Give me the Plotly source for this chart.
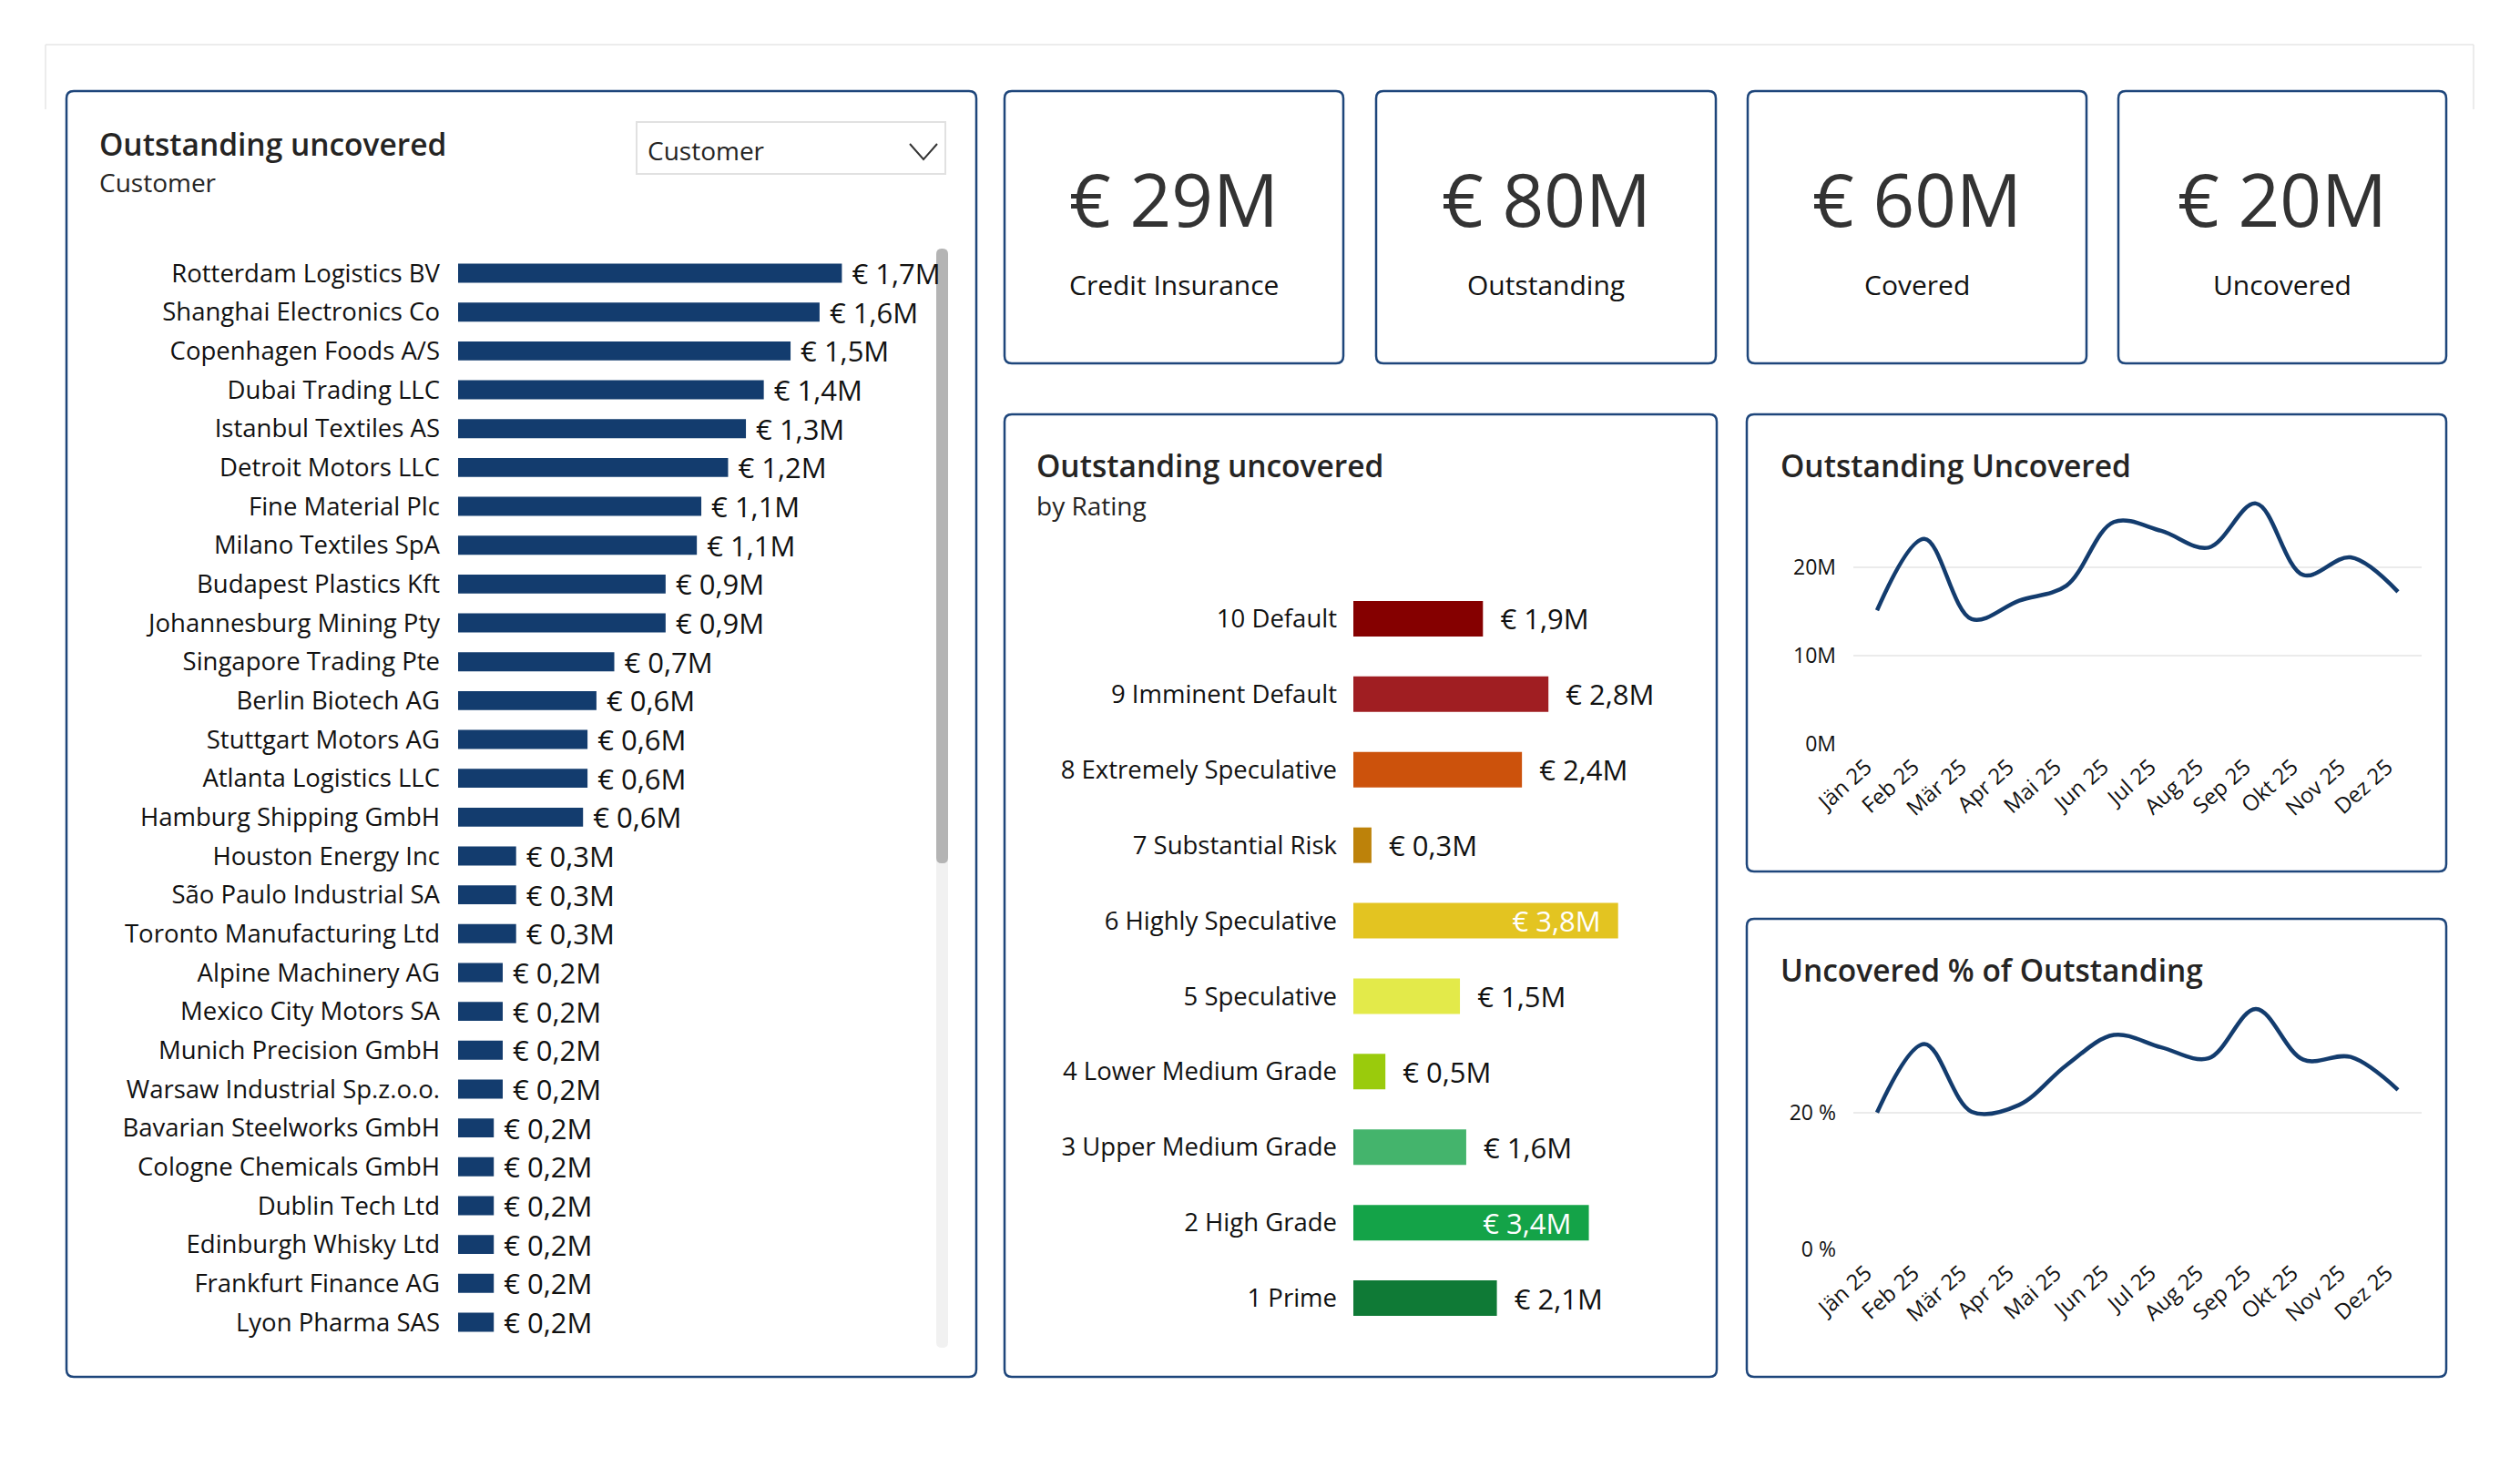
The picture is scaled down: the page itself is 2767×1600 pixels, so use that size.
import plotly.graph_objects as go

W, H = 2767, 1600
FONT = "Segoe UI, Open Sans, sans-serif"
NAVY = "#133C6E"
BORDER = "#1E467B"
TXT = "#252423"

# ---------------- data ----------------
customers = [
    "Rotterdam Logistics BV", "Shanghai Electronics Co", "Copenhagen Foods A/S",
    "Dubai Trading LLC", "Istanbul Textiles AS", "Detroit Motors LLC",
    "Fine Material Plc", "Milano Textiles SpA", "Budapest Plastics Kft",
    "Johannesburg Mining Pty", "Singapore Trading Pte", "Berlin Biotech AG",
    "Stuttgart Motors AG", "Atlanta Logistics LLC", "Hamburg Shipping GmbH",
    "Houston Energy Inc", "São Paulo Industrial SA", "Toronto Manufacturing Ltd",
    "Alpine Machinery AG", "Mexico City Motors SA", "Munich Precision GmbH",
    "Warsaw Industrial Sp.z.o.o.", "Bavarian Steelworks GmbH", "Cologne Chemicals GmbH",
    "Dublin Tech Ltd", "Edinburgh Whisky Ltd", "Frankfurt Finance AG", "Lyon Pharma SAS",
]
customer_uncovered_m = [
    1.72, 1.62, 1.49, 1.37, 1.29, 1.21, 1.09, 1.07, 0.93, 0.93,
    0.70, 0.62, 0.58, 0.58, 0.56, 0.26, 0.26, 0.26, 0.20, 0.20,
    0.20, 0.20, 0.16, 0.16, 0.16, 0.16, 0.16, 0.16,
]

ratings = [
    "10 Default", "9 Imminent Default", "8 Extremely Speculative", "7 Substantial Risk",
    "6 Highly Speculative", "5 Speculative", "4 Lower Medium Grade",
    "3 Upper Medium Grade", "2 High Grade", "1 Prime",
]
rating_uncovered_m = [1.86, 2.80, 2.42, 0.26, 3.80, 1.53, 0.46, 1.62, 3.38, 2.06]
rating_colors = ["#850000", "#A01E22", "#CC520C", "#BD820A", "#E3C421",
                 "#E3EA4A", "#9ACB0C", "#44B46C", "#14A348", "#0F7A36"]
rating_label_inside = [False, False, False, False, True, False, False, False, True, False]

months = ["Jän 25", "Feb 25", "Mär 25", "Apr 25", "Mai 25", "Jun 25",
          "Jul 25", "Aug 25", "Sep 25", "Okt 25", "Nov 25", "Dez 25"]
outstanding_uncovered_m = [15.1, 23.2, 14.1, 16.2, 17.9, 25.1, 24.1, 22.2, 27.2, 19.1, 21.1, 17.2]
uncovered_pct = [20.0, 30.0, 20.1, 21.1, 26.9, 31.3, 29.5, 27.9, 35.1, 27.7, 28.1, 23.3]

kpi_values = ["€ 29M", "€ 80M", "€ 60M", "€ 20M"]
kpi_labels = ["Credit Insurance", "Outstanding", "Covered", "Uncovered"]


# ---------------- helpers ----------------
def px(x):
    return x / W


def py(y):
    return 1 - y / H


def eur(v):
    return "€ " + f"{v:.1f}".replace(".", ",") + "M"


def rr_path(x0, y0, x1, y1, r=8):
    pts = [
        ("M", (x0 + r, y0)), ("L", (x1 - r, y0)), ("Q", (x1, y0), (x1, y0 + r)),
        ("L", (x1, y1 - r)), ("Q", (x1, y1), (x1 - r, y1)),
        ("L", (x0 + r, y1)), ("Q", (x0, y1), (x0, y1 - r)),
        ("L", (x0, y0 + r)), ("Q", (x0, y0), (x0 + r, y0)),
    ]
    out = []
    for p in pts:
        cmd = p[0]
        coords = " ".join(f"{px(a):.6f},{py(b):.6f}" for a, b in p[1:])
        out.append(f"{cmd} {coords}")
    return " ".join(out) + " Z"


fig = go.Figure()

VAL_SIZE = 31

# ---------------- customer bar chart ----------------
cust_scale = 245.0  # px per M (used only to set a pixel-consistent range)
fig.add_trace(go.Bar(
    x=customer_uncovered_m, y=customers, orientation="h",
    marker=dict(color=NAVY, line=dict(width=0)),
    width=0.49,
    text=["\u00a0" + eur(v) for v in customer_uncovered_m],
    textposition="outside", textangle=0, constraintext="none", cliponaxis=False,
    textfont=dict(family=FONT, size=VAL_SIZE, color="#111111"),
    hoverinfo="skip", xaxis="x", yaxis="y", showlegend=False,
))

# ---------------- rating bar chart ----------------
rating_text = [(eur(v) + "\u00a0\u00a0") if ins else ("\u00a0\u00a0" + eur(v))
               for v, ins in zip(rating_uncovered_m, rating_label_inside)]
fig.add_trace(go.Bar(
    x=rating_uncovered_m, y=ratings, orientation="h",
    marker=dict(color=rating_colors, line=dict(width=0)),
    width=0.47,
    text=rating_text,
    textposition=["inside" if ins else "outside" for ins in rating_label_inside],
    insidetextanchor="end", textangle=0, constraintext="none", cliponaxis=False,
    textfont=dict(family=FONT, size=VAL_SIZE,
                  color=["#FFFFFF" if ins else "#111111" for ins in rating_label_inside]),
    hoverinfo="skip", xaxis="x2", yaxis="y2", showlegend=False,
))

# ---------------- line charts ----------------
fig.add_trace(go.Scatter(
    x=months, y=outstanding_uncovered_m, mode="lines",
    line=dict(color=NAVY, width=4.5, shape="spline", smoothing=1.0),
    hoverinfo="skip", xaxis="x3", yaxis="y3", showlegend=False,
))
fig.add_trace(go.Scatter(
    x=months, y=uncovered_pct, mode="lines",
    line=dict(color=NAVY, width=4.5, shape="spline", smoothing=1.0),
    hoverinfo="skip", xaxis="x4", yaxis="y4", showlegend=False,
))

tickfont_bar = dict(family=FONT, size=27.5, color="#111111")
tickfont_line = dict(family=FONT, size=23, color="#111111")
tickfont_month = dict(family=FONT, size=24, color="#111111")

xline = dict(type="category", range=[-0.5, 11.5], tickangle=-42, tickfont=tickfont_month,
             showgrid=False, showline=False, zeroline=False, ticks="", fixedrange=True,
             automargin=False, ticklabelstandoff=6, ticklabelshift=-12)

fig.update_layout(
    width=W, height=H, margin=dict(l=0, r=0, t=0, b=0, autoexpand=False),
    paper_bgcolor="white", plot_bgcolor="rgba(0,0,0,0)",
    font=dict(family=FONT, color=TXT),
    showlegend=False,
    # customers
    xaxis=dict(domain=[px(503), px(1010)], range=[0, (1010 - 503) / cust_scale],
               visible=False, fixedrange=True, anchor="y", automargin=False),
    yaxis=dict(domain=[py(1473.3), py(278.7)], type="category", range=[27.5, -0.5],
               showgrid=False, showline=False, zeroline=False, ticks="",
               tickfont=tickfont_bar, ticklabelstandoff=19, anchor="x", fixedrange=True,
               automargin=False),
    # ratings
    xaxis2=dict(domain=[px(1486), px(1800)], range=[0, (1800 - 1486) / 76.5],
                visible=False, fixedrange=True, anchor="y2", automargin=False),
    yaxis2=dict(domain=[py(1467), py(638)], type="category", range=[9.5, -0.5],
                showgrid=False, showline=False, zeroline=False, ticks="",
                tickfont=tickfont_bar, ticklabelstandoff=17, anchor="x2", fixedrange=True,
                automargin=False),
    # line 1
    xaxis3=dict(domain=[px(2035), px(2659)], anchor="y3", **xline),
    yaxis3=dict(domain=[py(816.7), py(525.7)], range=[0, 30], tickvals=[0, 10, 20],
                ticktext=["0M", "10M", "20M"], gridcolor="#EBEBEB", gridwidth=2,
                zeroline=False, showline=False, ticks="", tickfont=tickfont_line,
                ticklabelstandoff=18, anchor="x3", fixedrange=True, automargin=False),
    # line 2
    xaxis4=dict(domain=[px(2035), px(2659)], anchor="y4", **xline),
    yaxis4=dict(domain=[py(1372.3), py(1101.2)], range=[0, 36], tickvals=[0, 20],
                ticktext=["0 %", "20 %"], gridcolor="#EBEBEB", gridwidth=2,
                zeroline=False, showline=False, ticks="", tickfont=tickfont_line,
                ticklabelstandoff=18, anchor="x4", fixedrange=True, automargin=False),
)

# ---------------- shapes ----------------
shapes = []
# faint outer frame
for (x0, y0, x1, y1) in [(50, 49, 2716, 49), (50, 49, 50, 120), (2716, 49, 2716, 120)]:
    shapes.append(dict(type="line", xref="paper", yref="paper",
                       x0=px(x0), y0=py(y0), x1=px(x1), y1=py(y1),
                       line=dict(color="#E6E6E6", width=1.5)))

panels = [
    (73, 100, 1072, 1512),       # customers
    (1103, 100, 1475, 399),      # KPI 1
    (1511, 100, 1884, 399),      # KPI 2
    (1919, 100, 2291, 399),      # KPI 3
    (2326, 100, 2686, 399),      # KPI 4
    (1103, 455, 1885, 1512),     # rating
    (1918, 455, 2686, 957),      # line 1
    (1918, 1009, 2686, 1512),    # line 2
]
for (x0, y0, x1, y1) in panels:
    shapes.append(dict(type="path", xref="paper", yref="paper", path=rr_path(x0, y0, x1, y1, 8),
                       line=dict(color=BORDER, width=2.5), fillcolor="rgba(0,0,0,0)", layer="below"))

# dropdown box
shapes.append(dict(type="rect", xref="paper", yref="paper",
                   x0=px(699), y0=py(134), x1=px(1038), y1=py(191),
                   line=dict(color="#E1E1E1", width=2), fillcolor="white", layer="below"))
shapes.append(dict(type="path", xref="paper", yref="paper",
                   path=f"M {px(999)},{py(158)} L {px(1014)},{py(175)} L {px(1029)},{py(158)}",
                   line=dict(color="#333333", width=2)))
# scrollbar track + thumb
shapes.append(dict(type="path", xref="paper", yref="paper", path=rr_path(1028, 273, 1041, 1480, 6),
                   line=dict(width=0), fillcolor="#F1F1F1", layer="below"))
shapes.append(dict(type="path", xref="paper", yref="paper", path=rr_path(1028, 273, 1041, 948, 6),
                   line=dict(width=0), fillcolor="#B4B4B4", layer="below"))

fig.update_layout(shapes=shapes)

# ---------------- annotations ----------------
ann = []


def text(x, y, s, size, color=TXT, weight=None, xanchor="left"):
    f = dict(family=FONT, size=size, color=color)
    if weight:
        f["weight"] = weight
    ann.append(dict(xref="paper", yref="paper", x=px(x), y=py(y), text=s,
                    showarrow=False, xanchor=xanchor, yanchor="middle", font=f))


text(107, 158, "Outstanding uncovered", 33.5, weight=600)
text(107, 200, "Customer", 28)
text(709, 165, "Customer", 28)

kpi_boxes = [(1103, 1475), (1511, 1884), (1919, 2291), (2326, 2686)]
for (x0, x1), v, lab in zip(kpi_boxes, kpi_values, kpi_labels):
    text((x0 + x1) / 2, 218, v, 80, color="#333333", xanchor="center")
    text((x0 + x1) / 2, 313, lab, 30, color="#111111", xanchor="center")

text(1136, 511, "Outstanding uncovered", 33.5, weight=600)
text(1136, 555, "by Rating", 28)
text(1953, 511, "Outstanding Uncovered", 33.5, weight=600)
text(1953, 1065, "Uncovered % of Outstanding", 33.5, weight=600)

fig.update_layout(annotations=ann)

fig.write_html("out.html")
